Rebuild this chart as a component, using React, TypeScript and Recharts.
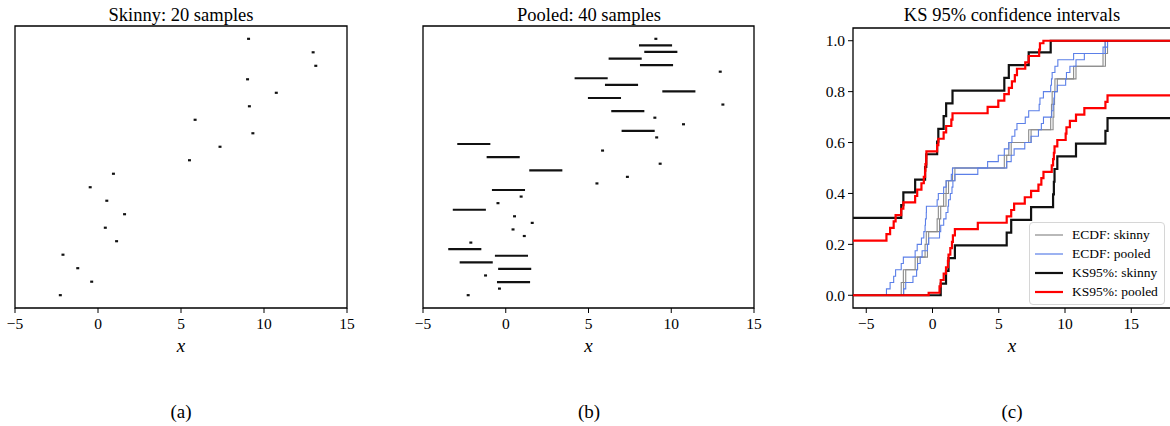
import React from "react";
import {
  ComposedChart,
  Scatter,
  Line,
  XAxis,
  YAxis,
  Label,
  Legend,
  ReferenceLine,
  ReferenceArea,
} from "recharts";

const FONT = '"Liberation Serif", "DejaVu Serif", serif';

// (a) skinny samples, one row each, bottom row first (interval midpoints)
const skinnyMid = [
  -2.27, -0.38, -1.22, -2.11, 1.12, 0.44, 1.6, 0.53, -0.47, 0.93,
  5.51, 7.35, 9.33, 5.85, 9.12, 10.74, 9.01, 13.12, 12.96, 9.07,
];
const skinnyHalf = 0.09;

// (b) pooled samples, bottom row first: midpoints and half widths
const pooledMid = [
  -2.27, -0.38, 0.47, -1.22, 0.54, -1.785, 0.345, -2.475, -2.11, 1.12,
  0.44, 1.6, 0.53, -2.2, -0.47, 0.93, 0.165, 5.51, 7.35, 2.42,
  9.33, -0.155, 5.85, -1.93, 9.12, 8.0, 10.74, 9.01, 7.375, 13.12,
  5.965, 10.46, 6.995, 5.16, 12.96, 9.11, 7.215, 9.37, 9.05, 9.07,
];
const pooledHalf = [
  0.09, 0.09, 1, 0.09, 1, 1, 1, 1, 0.09, 0.09,
  0.09, 0.09, 0.09, 1, 0.09, 0.09, 1, 0.09, 0.09, 1,
  0.09, 1, 0.09, 1, 0.09, 1, 0.09, 0.09, 1, 0.09,
  1, 1, 1, 1, 0.09, 1, 1, 1, 1, 0.09,
];

// KS 95% band half widths (n = 20, n = 40)
const ksSkinny = 0.304;
const ksPooled = 0.215;

const xTicksAB = [-5, 0, 5, 10, 15];
const xTicksC = [-5, 0, 5, 10, 15];
const yTicksC = [0, 0.2, 0.4, 0.6, 0.8, 1.0];

const fmtX = (v: number) => (v < 0 ? "\u2212" + Math.abs(v) : String(v));

type Row = { lo: number; hi: number; y: number };

const skinnyRows: Row[] = skinnyMid.map((m, i) => ({ lo: m - skinnyHalf, hi: m + skinnyHalf, y: i }));
const pooledRows: Row[] = pooledMid.map((m, i) => ({ lo: m - pooledHalf[i], hi: m + pooledHalf[i], y: i }));

const sortNums = (a: number[]) => [...a].sort((p, q) => p - q);
const clip = (y: number) => Math.min(1, Math.max(0, y));

function ecdf(vals: number[]) {
  const v = sortNums(vals);
  const n = v.length;
  return [{ x: v[0], y: 0 }, ...v.map((x, i) => ({ x, y: (i + 1) / n }))];
}

function band(vals: number[], eps: number) {
  const v = sortNums(vals);
  const n = v.length;
  return [
    { x: -6, y: clip(eps) },
    ...v.map((x, i) => ({ x, y: clip((i + 1) / n + eps) })),
    { x: 18, y: clip(1 + eps) },
  ];
}

const textStyle: React.CSSProperties = { fontFamily: FONT, fontSize: 15.5 };

const XTick = (p: any) => (
  <text x={p.x} y={p.y} dy="0.75em" textAnchor="middle" fill="#000" style={textStyle}>
    {fmtX(p.payload.value)}
  </text>
);

const YTick = (p: any) => (
  <text x={p.x} y={p.y} dy="0.34em" textAnchor="end" fill="#000" style={textStyle}>
    {Number(p.payload.value).toFixed(1)}
  </text>
);

const XName = (p: any) => {
  const vb = p.viewBox || {};
  return (
    <text
      x={vb.x + vb.width / 2}
      y={vb.y + vb.height - 8}
      textAnchor="middle"
      fill="#000"
      style={{ fontFamily: FONT, fontStyle: "italic", fontSize: 19 }}
    >
      x
    </text>
  );
};

function IntervalPanel({ rows, left, width, marginLeft, marginRight }: { rows: Row[]; left: number; width: number; marginLeft: number; marginRight: number }) {
  const n = rows.length;
  const pad = (n - 1) * 0.05;
  const yMin = -pad;
  const yMax = n - 1 + pad;
  return (
    <div style={{ position: "absolute", left, top: 0 }}>
      <ComposedChart width={width} height={360} margin={{ top: 26, right: marginRight, bottom: 0, left: marginLeft }}>
        <XAxis
          type="number"
          dataKey="lo"
          domain={[-5, 15]}
          ticks={xTicksAB}
          interval={0}
          allowDataOverflow
          height={52}
          tickSize={5}
          tickMargin={4}
          axisLine={false}
          tickLine={{ stroke: "#000", strokeWidth: 1 }}
          tick={XTick}
        >
          <Label content={XName} />
        </XAxis>
        <YAxis type="number" dataKey="y" domain={[yMin, yMax]} allowDataOverflow hide />
        <Scatter data={rows} dataKey="y" isAnimationActive={false} shape={() => <g />} />
        {rows.map((r) => (
          <ReferenceLine
            key={r.y}
            segment={[{ x: r.lo, y: r.y }, { x: r.hi, y: r.y }]}
            stroke="#111"
            strokeWidth={2.2}
          />
        ))}
        <ReferenceArea x1={-5} x2={15} y1={yMin} y2={yMax} fill="none" stroke="#000" strokeWidth={1.3} />
      </ComposedChart>
    </div>
  );
}

const legendItems: Record<string, { color: string; width: number }> = {
  "ECDF: skinny": { color: "#8a8a8a", width: 1.2 },
  "ECDF: pooled": { color: "#5b7fe8", width: 1.2 },
  "KS95%: skinny": { color: "#111", width: 2.2 },
  "KS95%: pooled": { color: "#ff0000", width: 2.2 },
};

function KsLegend() {
  return (
    <div
      style={{
        border: "1px solid #d6d6d6",
        borderRadius: 4,
        background: "rgba(255,255,255,0.85)",
        padding: "2px 6px 3px 4px",
        fontFamily: FONT,
        fontSize: 13.5,
        lineHeight: "19px",
        color: "#000",
      }}
    >
      {Object.keys(legendItems).map((k) => (
        <div key={k} style={{ display: "flex", alignItems: "center", whiteSpace: "nowrap" }}>
          <svg width={38} height={19} style={{ flex: "none" }}>
            <line x1={1} x2={29} y1={10} y2={10} stroke={legendItems[k].color} strokeWidth={legendItems[k].width} />
          </svg>
          <span>{k}</span>
        </div>
      ))}
    </div>
  );
}

function KsPanel() {
  const skLo = skinnyRows.map((r) => r.lo);
  const skHi = skinnyRows.map((r) => r.hi);
  const poLo = pooledRows.map((r) => r.lo);
  const poHi = pooledRows.map((r) => r.hi);
  const common = { type: "stepAfter" as const, dataKey: "y", dot: false, isAnimationActive: false, activeDot: false };
  return (
    <div style={{ position: "absolute", left: 800, top: 0 }}>
      <ComposedChart width={380} height={360} margin={{ top: 28, right: 9, bottom: 0, left: 0 }}>
        <XAxis
          type="number"
          dataKey="x"
          domain={[-6, 18]}
          ticks={xTicksC}
          interval={0}
          allowDataOverflow
          height={52}
          tickSize={5}
          tickMargin={4}
          axisLine={false}
          tickLine={{ stroke: "#000", strokeWidth: 1 }}
          tick={XTick}
        >
          <Label content={XName} />
        </XAxis>
        <YAxis
          type="number"
          domain={[-0.05, 1.05]}
          ticks={yTicksC}
          interval={0}
          allowDataOverflow
          width={53}
          tickSize={5}
          tickMargin={3}
          axisLine={false}
          tickLine={{ stroke: "#000", strokeWidth: 1 }}
          tick={YTick}
        />
        <Line {...common} data={ecdf(skLo)} name="ECDF: skinny" stroke="#8a8a8a" strokeWidth={1.1} />
        <Line {...common} data={ecdf(skHi)} name="ecdf-skinny-hi" legendType="none" stroke="#8a8a8a" strokeWidth={1.1} />
        <Line {...common} data={ecdf(poLo)} name="ECDF: pooled" stroke="#5b7fe8" strokeWidth={1.1} />
        <Line {...common} data={ecdf(poHi)} name="ecdf-pooled-hi" legendType="none" stroke="#5b7fe8" strokeWidth={1.1} />
        <Line {...common} data={band(skLo, ksSkinny)} name="KS95%: skinny" stroke="#111" strokeWidth={2.2} />
        <Line {...common} data={band(skHi, -ksSkinny)} name="ks-skinny-lo" legendType="none" stroke="#111" strokeWidth={2.2} />
        <Line {...common} data={band(poLo, ksPooled)} name="KS95%: pooled" stroke="#ff0000" strokeWidth={2.2} />
        <Line {...common} data={band(poHi, -ksPooled)} name="ks-pooled-lo" legendType="none" stroke="#ff0000" strokeWidth={2.2} />
        <ReferenceArea x1={-6} x2={18} y1={-0.05} y2={1.05} fill="none" stroke="#000" strokeWidth={1.3} />
        <Legend
          layout="vertical"
          align="center"
          verticalAlign="middle"
          content={() => <KsLegend />}
          wrapperStyle={{ position: "absolute", left: 229, top: 222, width: "auto" }}
        />
      </ComposedChart>
    </div>
  );
}

const capStyle: React.CSSProperties = {
  position: "absolute",
  transform: "translate(-50%, -50%)",
  whiteSpace: "nowrap",
  lineHeight: 1,
  color: "#000",
  fontFamily: FONT,
};

export default function App() {
  return (
    <div style={{ position: "absolute", left: 0, top: 0, width: 1170, height: 426, overflow: "hidden", background: "#fff", fontFamily: FONT }}>
      <IntervalPanel rows={skinnyRows} left={0} width={360} marginLeft={15} marginRight={13} />
      <IntervalPanel rows={pooledRows} left={408} width={360} marginLeft={15} marginRight={14} />
      <KsPanel />
      <div style={{ ...capStyle, left: 181, top: 15, fontSize: 18.5 }}>Skinny: 20 samples</div>
      <div style={{ ...capStyle, left: 589, top: 15, fontSize: 18.5 }}>Pooled: 40 samples</div>
      <div style={{ ...capStyle, left: 1012, top: 15, fontSize: 18.5 }}>KS 95% confidence intervals</div>
      <div style={{ ...capStyle, left: 181, top: 411, fontSize: 19 }}>(a)</div>
      <div style={{ ...capStyle, left: 589, top: 411, fontSize: 19 }}>(b)</div>
      <div style={{ ...capStyle, left: 1012, top: 411, fontSize: 19 }}>(c)</div>
    </div>
  );
}
